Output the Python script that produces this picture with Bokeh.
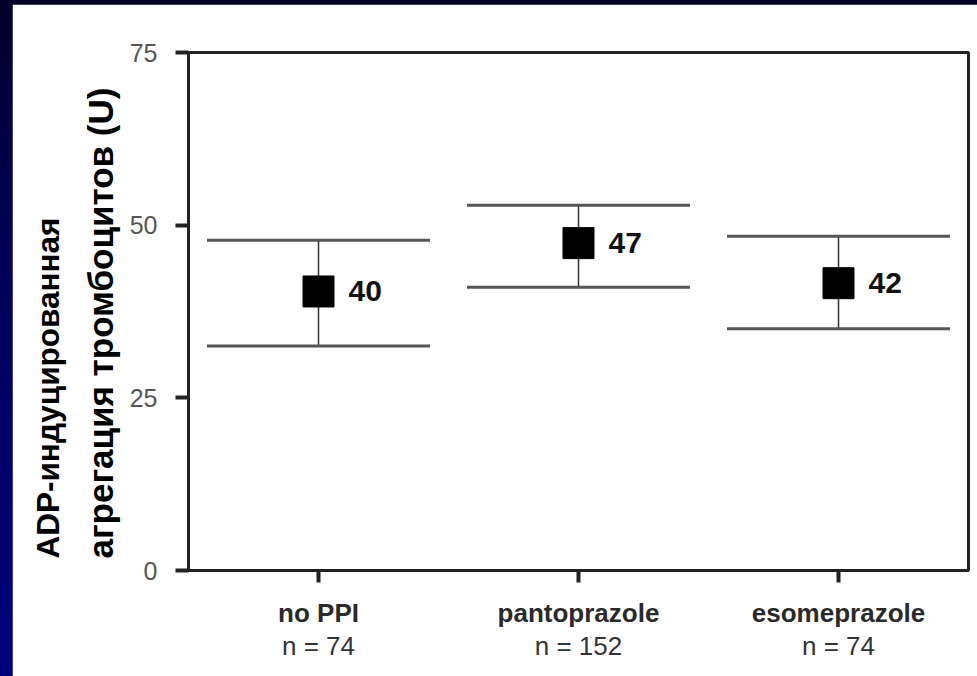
from bokeh.plotting import figure
from bokeh.models import (ColumnDataSource, FactorRange, Range1d, FixedTicker, Whisker,
                          TeeHead, CategoricalAxis, Title, CustomJSTickFormatter)
from bokeh.layouts import column
from bokeh.core.properties import value
from bokeh.embed import file_html
from bokeh.resources import INLINE

# ---- data ----
groups = ["no PPI", "pantoprazole", "esomeprazole"]
n_patients = [74, 152, 74]
means = [40.4, 47.4, 41.6]
upper = [47.8, 52.9, 48.4]
lower = [32.5, 41.0, 35.0]
mean_labels = ["40", "47", "42"]
y_ticks = [0, 25, 50, 75]
title_line1 = "ADP-индуцированная"
title_line2 = "агрегация тромбоцитов (U)"

FONT = "Liberation Sans"

src = ColumnDataSource(dict(g=groups, m=means, up=upper, lo=lower, lab=mean_labels))

p = figure(width=965, height=672, x_range=FactorRange(*groups), y_range=Range1d(0, 75),
           output_backend="svg", toolbar_location=None, margin=(4, 0, 0, 12),
           min_border_left=176, min_border_right=9, min_border_top=48, min_border_bottom=106,
           background_fill_color="white", border_fill_color="white")
p.x_range.range_padding = 0
p.grid.visible = False
p.outline_line_color = "#222222"
p.outline_line_width = 3

# whiskers (SD range)
wh = Whisker(base="g", upper="up", lower="lo", source=src, line_color="#333333", line_width=1.5,
             upper_head=TeeHead(size=223, line_color="#555555", line_width=3),
             lower_head=TeeHead(size=223, line_color="#555555", line_width=3))
wh.level = "underlay"
p.add_layout(wh)

p.scatter(x="g", y="m", source=src, marker="square", size=31, color="black")
p.text(x="g", y="m", text="lab", source=src, x_offset=30, text_baseline="middle",
       text_align="left", text_font=value(FONT), text_font_style="bold",
       text_font_size="30px", text_color="#111111")

# y axis
ya = p.yaxis[0]
ya.ticker = FixedTicker(ticks=y_ticks)
ya.axis_line_color = "#222222"
ya.axis_line_width = 3
ya.major_tick_line_width = 4
ya.major_tick_line_color = "#222222"
ya.major_tick_out = 13
ya.major_tick_in = 0
ya.minor_tick_line_color = None
ya.major_label_standoff = 18
ya.major_label_text_font = FONT
ya.major_label_text_font_size = "25px"
ya.major_label_text_color = "#555555"

# x axis: category names
xa = p.xaxis[0]
xa.axis_line_color = "#222222"
xa.axis_line_width = 3
xa.major_tick_line_width = 4
xa.major_tick_line_color = "#222222"
xa.major_tick_out = 12
xa.major_tick_in = 0
xa.major_label_standoff = 15
xa.major_label_text_font = FONT
xa.major_label_text_font_style = "bold"
xa.major_label_text_font_size = "26px"
xa.major_label_text_color = "#2a2a2a"

# second x axis: sample sizes
xa2 = CategoricalAxis(formatter=CustomJSTickFormatter(
    args=dict(g=groups, n=n_patients),
    code="return 'n = ' + n[g.indexOf(tick)];"))
xa2.axis_line_color = None
xa2.major_tick_line_color = None
xa2.major_tick_out = 0
xa2.major_tick_in = 0
xa2.major_label_standoff = 0
xa2.major_label_text_font = FONT
xa2.major_label_text_font_size = "26px"
xa2.major_label_text_color = "#333333"
p.add_layout(xa2, "below")

# two-line y title
t2 = Title(text=title_line2, align="left", offset=12, standoff=14,
           text_font=FONT, text_font_style="bold", text_font_size="35px", text_color="black")
t1 = Title(text=title_line1, align="left", offset=12, standoff=12,
           text_font=FONT, text_font_style="bold", text_font_size="31.5px", text_color="black")
p.add_layout(t2, "left")
p.add_layout(t1, "left")

layout = column(p, width=977, height=676,
                styles={"background": "linear-gradient(180deg, #03002a 0%, #00005a 40%, #00007c 100%)"})

open("out.html", "w").write(file_html(layout, INLINE))
